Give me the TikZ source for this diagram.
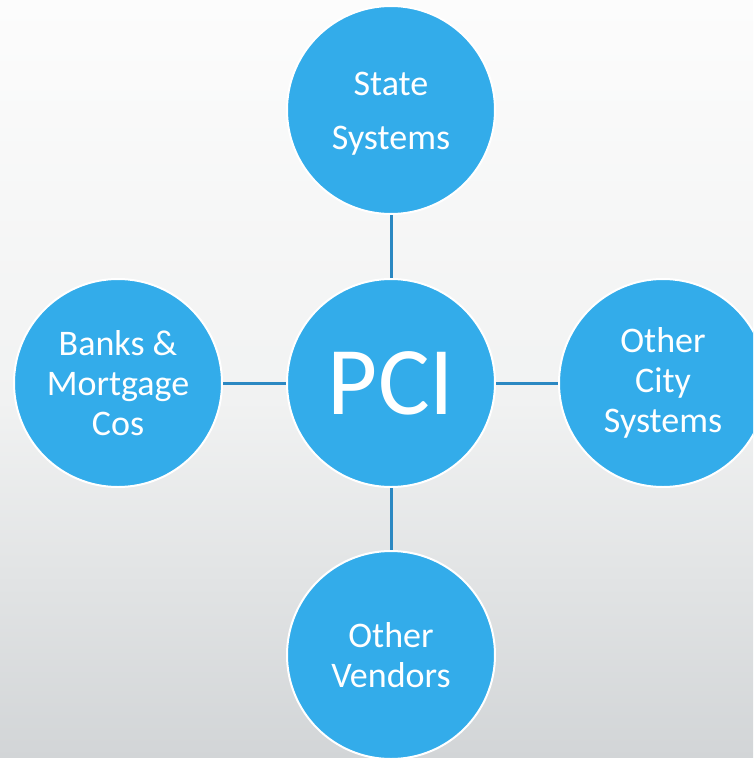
\documentclass[tikz,border=0pt]{standalone}
\usepackage{fontspec}
\setmainfont{Carlito}
\definecolor{circfill}{HTML}{33ACEA}
\definecolor{linkcol}{HTML}{2B88C2}
\definecolor{bgtop}{HTML}{FCFCFC}
\definecolor{bgmid}{HTML}{F1F2F2}
\definecolor{bgbot}{HTML}{D2D5D7}
\begin{document}
\begin{tikzpicture}[x=1pt,y=-1pt,
  bubble/.style={circle, fill=circfill, draw=white, line width=2pt,
    minimum size=208pt, inner sep=0pt, text=white, align=center,
    font=\fontsize{36}{40}\selectfont},
  link/.style={draw=linkcol, line width=3pt}]
\clip (0,0) rectangle (753,758);
\shade[top color=bgtop, bottom color=bgmid] (0,0) rectangle (753,400);
\shade[top color=bgmid, bottom color=bgbot] (0,399.5) rectangle (753,758);
\node[bubble] (top) at (391,110) {\rule{0pt}{30pt}State\\[14pt]Systems};
\node[bubble, font=\fontsize{97}{100}\selectfont] (pci) at (391,383) {PCI};
\node[bubble] (left) at (118,383) {Banks \&\\Mortgage\\Cos};
\node[bubble] (right) at (663,383) {Other\\City\\Systems};
\node[bubble] (bottom) at (391,655) {Other\\Vendors};
\draw[link] (top) -- (pci);
\draw[link] (pci) -- (bottom);
\draw[link] (left) -- (pci);
\draw[link] (pci) -- (right);
\end{tikzpicture}
\end{document}
